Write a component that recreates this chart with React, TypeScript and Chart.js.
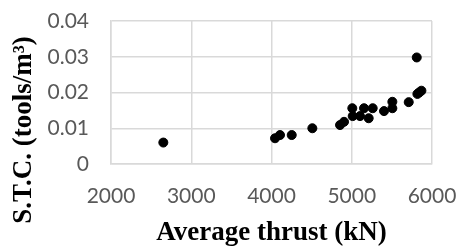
import React, { useEffect, useRef } from "react";
import { Chart, registerables } from "chart.js";

Chart.register(...registerables);

const thrust = [2652, 4044, 4106, 4252, 4509, 4854, 4904, 5007, 5012, 5103, 5153, 5211, 5261, 5402, 5506, 5506, 5710, 5810, 5818, 5840, 5868];
const stc = [0.006, 0.0072, 0.0081, 0.0081, 0.01, 0.0109, 0.0118, 0.0156, 0.0134, 0.0134, 0.0156, 0.0128, 0.0156, 0.0148, 0.0174, 0.0156, 0.0173, 0.0298, 0.0196, 0.02, 0.0205];
const xTitle = "Average thrust (kN)";
const yTitle = "S.T.C. (tools/m³)";

const yTitlePlugin = {
  id: "yTitlePlugin",
  afterDraw(chart: any) {
    const ctx = chart.ctx;
    ctx.save();
    ctx.font = "bold 27px 'Liberation Serif'";
    ctx.fillStyle = "#000";
    ctx.textAlign = "center";
    ctx.textBaseline = "middle";
    ctx.translate(24, 130);
    ctx.rotate(-Math.PI / 2);
    ctx.fillText(yTitle, 0, 0);
    ctx.restore();
  },
};

export default function App() {
  const ref = useRef<HTMLCanvasElement>(null);
  useEffect(() => {
    document.body.style.margin = "0";
    const tickFont = { family: "Lato", size: 21 };
    const chart = new Chart(ref.current!, {
      type: "scatter",
      data: {
        datasets: [
          {
            data: thrust.map((x, i) => ({ x, y: stc[i] })),
            backgroundColor: "#000",
            borderColor: "#000",
            pointRadius: 4.5,
            pointHoverRadius: 4.5,
          },
        ],
      },
      options: {
        responsive: false,
        animation: false,
        layout: { padding: { left: 0, right: 26, top: 21, bottom: 0 } },
        plugins: { legend: { display: false }, tooltip: { enabled: false } },
        scales: {
          x: {
            type: "linear",
            min: 2000,
            max: 6000,
            ticks: {
              stepSize: 1000,
              color: "#595959",
              font: tickFont,
              padding: 0,
              maxRotation: 0,
              callback: (v: any) => String(v),
            },
            grid: { color: "#d9d9d9", drawTicks: true, tickLength: 20, tickColor: "rgba(0,0,0,0)", lineWidth: 1.5 },
            border: { color: "#d9d9d9", width: 1.5 },
            title: {
              display: true,
              text: xTitle,
              color: "#000",
              font: { family: "Liberation Serif", size: 27, weight: "bold" },
              padding: { top: 0, bottom: -2 },
            },
            afterFit: (s: any) => {
              s.height = 83;
            },
          },
          y: {
            min: 0,
            max: 0.04,
            ticks: {
              stepSize: 0.01,
              color: "#595959",
              font: tickFont,
              padding: 0,
              callback: (v: any) => (v === 0 ? "0" : Number(v).toFixed(2)),
            },
            grid: { color: "#d9d9d9", drawTicks: true, tickLength: 22, tickColor: "rgba(0,0,0,0)", lineWidth: 1.5 },
            border: { color: "#d9d9d9", width: 1.5 },
            afterFit: (s: any) => {
              s.width = 111;
            },
          },
        },
      },
      plugins: [yTitlePlugin],
    });
    return () => chart.destroy();
  }, []);
  return (
    <div style={{ width: 458, height: 247 }}>
      <canvas ref={ref} width={458} height={247} />
    </div>
  );
}
